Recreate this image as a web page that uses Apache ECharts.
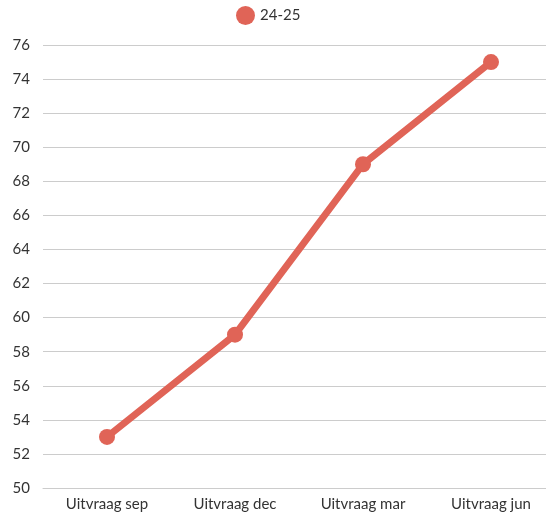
<!DOCTYPE html>
<html>
<head>
<meta charset="utf-8">
<script src="https://cdn.jsdelivr.net/npm/echarts@6/dist/echarts.min.js"></script>
<style>
  html, body { margin: 0; padding: 0; background: #fff; overflow: hidden; }
  #chart { width: 555px; height: 516px; }
</style>
</head>
<body>
<div id="chart"></div>
<script>
// data
const categories = ['Uitvraag sep', 'Uitvraag dec', 'Uitvraag mar', 'Uitvraag jun']
const seriesName = '24-25'
const values = [53, 59, 69, 75]

const lineColor = '#e06457'
const fontFamily = 'Lato, "Open Sans", sans-serif'

const myChart = echarts.init(document.getElementById('chart'))
myChart.setOption({
  backgroundColor: '#fff',
  animation: false,
  legend: {
    top: 1,
    left: 231,
    icon: 'circle',
    itemWidth: 19,
    itemHeight: 19,
    itemGap: 6,
    data: [seriesName],
    textStyle: { fontFamily: fontFamily, fontSize: 15, color: '#333' }
  },
  grid: {
    left: 43,
    right: 0,
    top: 45,
    bottom: 28
  },
  xAxis: {
    type: 'category',
    data: categories,
    boundaryGap: true,
    axisLine: { show: true, lineStyle: { color: '#cccccc', width: 1 } },
    axisTick: { show: false },
    axisLabel: {
      margin: 9,
      fontFamily: fontFamily,
      fontSize: 15,
      color: '#333'
    }
  },
  yAxis: {
    type: 'value',
    min: 50,
    max: 76,
    interval: 2,
    axisLine: { show: false },
    axisTick: { show: false },
    splitLine: { lineStyle: { color: '#cccccc', width: 1 } },
    axisLabel: {
      margin: 13,
      fontFamily: fontFamily,
      fontSize: 15,
      color: '#333'
    }
  },
  series: [
    {
      name: seriesName,
      type: 'line',
      data: values,
      symbol: 'circle',
      symbolSize: 16,
      lineStyle: { color: lineColor, width: 7 },
      itemStyle: { color: lineColor }
    }
  ]
})
</script>
</body>
</html>
